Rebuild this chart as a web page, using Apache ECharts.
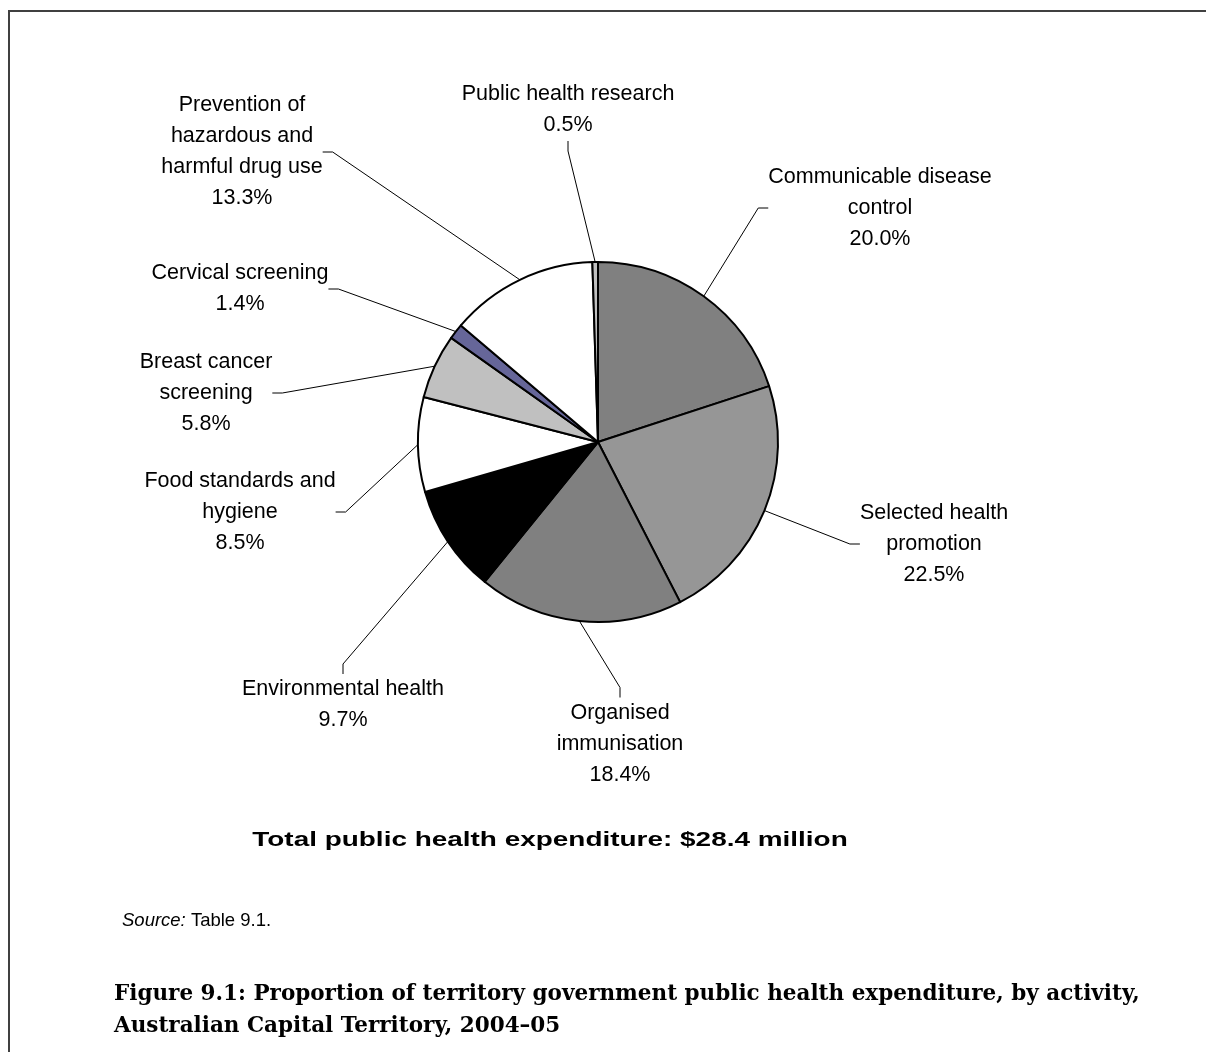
<!DOCTYPE html>
<html>
<head>
<meta charset="utf-8">
<script src="https://cdn.jsdelivr.net/npm/echarts@6/dist/echarts.min.js"></script>
<style>
  html, body { margin: 0; padding: 0; background: #fff; }
  #chart { width: 1206px; height: 1052px; }
</style>
</head>
<body>
<div id="chart"></div>
<script>
// Public health expenditure by activity, ACT 2004-05 (per cent of total)
const categories = [
  'Communicable disease\ncontrol',
  'Selected health\npromotion',
  'Organised\nimmunisation',
  'Environmental health',
  'Food standards and\nhygiene',
  'Breast cancer\nscreening',
  'Cervical screening',
  'Prevention of\nhazardous and\nharmful drug use',
  'Public health research'
];
const shares = [20.0, 22.5, 18.4, 9.7, 8.5, 5.8, 1.4, 13.3, 0.5];
const sliceColors = ['#808080', '#969696', '#808080', '#000000', '#ffffff',
                     '#c0c0c0', '#666699', '#ffffff', '#c0c0c0'];

// Centre point of each label block (px), in slice order
const labelCentres = [
  [880, 208], [934, 544], [620, 744], [343, 705], [240, 512],
  [206, 393], [240, 289], [242, 152], [568, 110]
];

const totalText = 'Total public health expenditure: $28.4 million';
const captionText = 'Figure 9.1: Proportion of territory government public health expenditure, by activity,\nAustralian Capital Territory, 2004\u201305';

const chart = echarts.init(document.getElementById('chart'), null, { renderer: 'canvas' });

const pieData = categories.map((name, i) => ({
  name: name,
  value: shares[i],
  itemStyle: { color: sliceColors[i] }
}));

chart.setOption({
  backgroundColor: '#ffffff',
  animation: false,
  series: [{
    type: 'pie',
    center: [598, 442],
    radius: 180,
    startAngle: 90,
    clockwise: true,
    avoidLabelOverlap: false,
    data: pieData,
    itemStyle: { borderColor: '#000000', borderWidth: 2 },
    emphasis: { disabled: true },
    label: {
      show: true,
      position: 'outside',
      formatter: (p) => p.name + '\n' + p.value.toFixed(1) + '%',
      fontFamily: '"Liberation Sans", Arial, sans-serif',
      fontSize: 21.5,
      lineHeight: 31,
      color: '#000000',
      align: 'center'
    },
    labelLine: {
      show: true,
      length: 10,
      length2: 10,
      minTurnAngle: 0,
      lineStyle: { color: '#000000', width: 1 }
    },
    labelLayout: (params) => {
      const c = labelCentres[params.dataIndex];
      return { x: c[0], y: c[1], align: 'center', verticalAlign: 'middle' };
    }
  }],
  graphic: [
    {
      type: 'polyline',
      silent: true,
      shape: { points: [[9, 1052], [9, 11], [1206, 11]] },
      style: { stroke: '#404040', lineWidth: 2, fill: null }
    },
    {
      // widely tracked bold total line
      type: 'text',
      x: 550, y: 840,
      scaleX: 1.33,
      style: {
        text: totalText,
        font: 'bold 21px "Liberation Sans", Arial, sans-serif',
        fill: '#000000',
        align: 'center',
        verticalAlign: 'middle'
      }
    },
    {
      type: 'text',
      x: 122, y: 921,
      style: {
        text: '{i|Source:} Table 9.1.',
        fill: '#000000',
        verticalAlign: 'middle',
        font: '18.5px "Liberation Sans", Arial, sans-serif',
        rich: {
          i: { fontStyle: 'italic', fontSize: 18.5, fontFamily: '"Liberation Sans", Arial, sans-serif' }
        }
      }
    },
    {
      type: 'text',
      x: 114, y: 1010,
      style: {
        text: captionText,
        font: 'bold 21.5px "DejaVu Serif", "Liberation Serif", serif',
        lineHeight: 32,
        fill: '#000000',
        align: 'left',
        verticalAlign: 'middle'
      }
    }
  ]
});
</script>
</body>
</html>
